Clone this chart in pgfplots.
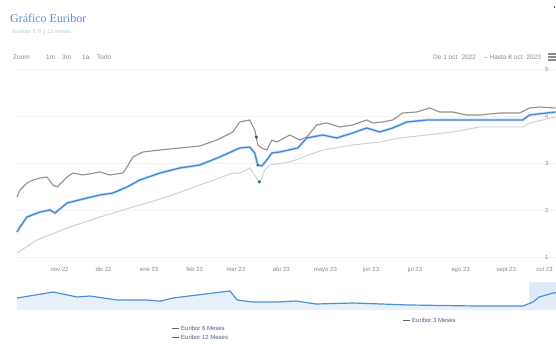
\documentclass[border=0pt]{standalone}
\usepackage{pgfplots}
\pgfplotsset{compat=1.18}
\usepackage{fontspec}
\setmainfont{Liberation Sans}
\newfontfamily\titlefont{Liberation Serif}
\definecolor{cTitle}{HTML}{5B8ED0}
\definecolor{cSub}{HTML}{B9C7DA}
\definecolor{cTxt}{HTML}{8A8A8A}
\definecolor{cGrey}{HTML}{938E8A}
\definecolor{cBlue}{HTML}{3F86D6}
\definecolor{cHalo}{HTML}{D3E5F8}
\definecolor{cLight}{HTML}{CDD3D3}
\definecolor{cNav}{HTML}{4D8FD6}
\definecolor{cNavFill}{HTML}{E4EEFA}
\definecolor{cMask}{HTML}{C9DBF1}
\definecolor{cLeg}{HTML}{4A5A7A}

\pgfplotstableread{
d v
2.0 2.277
4.1 2.426
8.8 2.574
12.9 2.638
17.7 2.681
22.4 2.702
26.5 2.532
29.3 2.489
36.1 2.702
40.1 2.787
46.9 2.745
58.5 2.809
65.3 2.745
74.1 2.787
76.9 2.915
81.0 3.128
87.8 3.234
99.3 3.277
112.9 3.319
126.5 3.362
138.1 3.489
149.0 3.660
153.7 3.872
160.5 3.915
163.9 3.702
166.0 3.383
168.7 3.319
172.1 3.277
175.5 3.489
178.9 3.447
187.8 3.596
194.6 3.489
199.3 3.553
206.1 3.809
212.9 3.851
221.8 3.766
230.6 3.809
240.1 3.915
244.2 3.851
251.0 3.872
257.8 3.915
264.6 4.064
274.1 4.085
283.0 4.170
289.8 4.085
298.6 4.085
308.2 4.021
317.0 4.021
330.6 4.064
344.2 4.064
351.0 4.170
357.8 4.191
368.7 4.170
}\twelve

\pgfplotstableread{
d v
2.0 1.532
4.1 1.638
8.8 1.851
17.7 1.957
24.5 2.000
27.9 1.936
36.1 2.149
49.7 2.255
58.5 2.319
67.3 2.362
76.9 2.489
85.7 2.638
99.3 2.787
112.9 2.894
126.5 2.957
140.1 3.128
153.7 3.319
160.5 3.340
163.9 3.213
166.0 2.957
168.7 2.936
172.1 3.064
175.5 3.213
181.0 3.234
193.2 3.319
199.3 3.532
210.2 3.596
219.7 3.532
230.6 3.638
240.1 3.745
249.0 3.660
257.8 3.745
267.3 3.872
281.0 3.915
294.6 3.915
308.2 3.915
317.0 3.915
346.3 3.915
351.0 4.021
368.7 4.085
}\six

\pgfplotstableread{
d v
2.0 1.085
15.6 1.362
36.1 1.617
58.5 1.851
81.0 2.064
104.1 2.277
126.5 2.532
149.0 2.787
153.7 2.787
160.5 2.894
166.0 2.638
167.3 2.574
170.7 2.851
174.1 2.957
187.8 3.021
210.2 3.277
230.6 3.383
249.0 3.447
262.6 3.532
281.0 3.596
298.6 3.660
317.0 3.766
346.3 3.766
351.0 3.851
368.7 3.979
}\three

\pgfplotstableread{
y v
1999.09 2.64
2000.74 5.00
2001.84 3.04
2002.43 3.43
2003.67 1.86
2005.04 1.86
2005.64 1.40
2006.23 2.64
2008.07 4.60
2008.84 5.40
2009.17 1.86
2009.90 1.07
2010.95 1.07
2011.87 1.47
2012.78 0.29
2014.48 0.68
2017.04 -0.10
2020.11 -0.50
2022.26 -0.50
2022.72 1.07
2022.99 3.00
2023.64 4.60
2023.77 4.70
}\nav

\begin{document}
\begin{tikzpicture}[x=1bp,y=1bp]
\path[use as bounding box] (0,0) rectangle (556,343);
% title
\node[anchor=west, inner sep=0, text=cTitle, font=\titlefont\fontsize{12}{13}\selectfont] at (10,325) {Gráfico Euribor};
\node[anchor=west, inner sep=0, text=cSub, font=\fontsize{5.5}{6}\selectfont] at (13,311) {Euribor 3, 6 y 12 meses};
% range selector
\begin{scope}[font=\fontsize{6.5}{7}\selectfont, text=cTxt]
\node[anchor=west, inner sep=0] at (13,286) {Zoom};
\node[anchor=west, inner sep=0] at (46,286) {1m};
\node[anchor=west, inner sep=0] at (62,286) {3m};
\node[anchor=west, inner sep=0] at (82,286) {1a};
\node[anchor=west, inner sep=0] at (97,286) {Todo};
\node[anchor=west, inner sep=0] at (433,286) {De 1 oct. 2022};
\node[anchor=west, inner sep=0] at (484,286) {\textendash\ Hasta 8 oct. 2023};
\end{scope}
\foreach \yy in {283,286,289} \draw[cTxt, line width=1.2] (548,\yy) -- (556,\yy);
\fill[cBlue!80!black] (554.5,336) circle (1);

% main chart
\begin{axis}[
  at={(14bp,81bp)}, anchor=south west,
  width=542bp, height=198bp, scale only axis,
  xmin=0, xmax=369, ymin=0.894, ymax=5.106,
  axis line style={draw=none},
  major tick length=0,
  ymajorgrids, grid style={gray!9, line width=0.5},
  xtick={31,61,92,123,151,182,212,243,273,304,335},
  xticklabels={nov 22, dic 22, ene 23, feb 23, mar 23, abr 23, mayo 23, jun 23, jul 23, ago 23, sept 23},
  extra x ticks={365},
  extra x tick labels={oct 23},
  extra x tick style={major tick length=0, xticklabel style={anchor=north east, xshift=6bp}},
  ytick={1,2,3,4,5},
  yticklabel pos=right,
  /pgf/number format/assume math mode=true,
  xticklabel style={font=\fontsize{6}{7}\selectfont, text=cTxt, yshift=-2bp},
  yticklabel style={font=\fontsize{6}{7}\selectfont, text=cTxt, anchor=east, xshift=-4bp},
  clip=false,
]
\addplot[cLight, line width=1.0] table[x=d,y=v] {\three};
\addplot[cHalo, line width=3.0] table[x=d,y=v] {\six};
\addplot[cBlue, line width=1.3] table[x=d,y=v] {\six};
\addplot[cGrey, line width=1.1] table[x=d,y=v] {\twelve};
\addplot[only marks, mark=*, mark size=1.3, black!70] coordinates {(165.0,3.55)};
\addplot[only marks, mark=*, mark size=1.3, cBlue!80!black] coordinates {(166.0,2.957)};
\addplot[only marks, mark=*, mark size=1.3, green!55!black] coordinates {(167.0,2.60)};
\end{axis}

% navigator
\begin{axis}[
  at={(14bp,33bp)}, anchor=south west,
  width=542bp, height=28bp, scale only axis,
  xmin=1998.95, xmax=2023.77, ymin=-2.07, ymax=8.93,
  hide axis, clip=true,
]
\fill[cMask, opacity=0.6] (axis cs:2022.55,-2.07) rectangle (axis cs:2023.77,8.93);
\addplot[draw=none, fill=cNavFill, fill opacity=0.85] table[x=y,y=v] {\nav} |- (axis cs:1999.09,-2.07) -- cycle;
\addplot[cNav, line width=1.2] table[x=y,y=v] {\nav};
\end{axis}

% legend
\begin{scope}[font=\fontsize{6}{7}\selectfont, text=cLeg]
\draw[cGrey!70!black, line width=1] (172,15) -- (179,15);
\node[anchor=west, inner sep=0] at (181,15) {Euribor 6 Meses};
\draw[cGrey!70!black, line width=1] (172,6) -- (179,6);
\node[anchor=west, inner sep=0] at (181,6) {Euribor 12 Meses};
\draw[cGrey!70!black, line width=1] (403,23) -- (410,23);
\node[anchor=west, inner sep=0] at (412,23) {Euribor 3 Meses};
\end{scope}
\end{tikzpicture}
\end{document}
